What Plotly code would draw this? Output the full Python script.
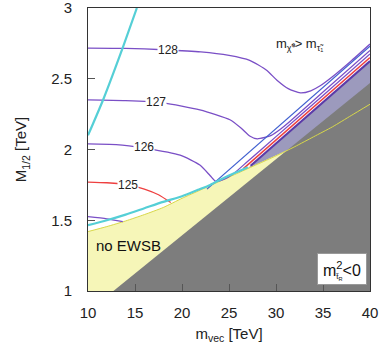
import plotly.graph_objects as go

# --- data (m_vec in TeV, M_1/2 in TeV) ---
grey_x = [12.7, 40, 40]
grey_y = [1.0, 1.0, 2.47]

yellow_x = [10, 12, 14, 16, 18, 20, 22, 24, 26, 28, 30, 32, 34, 36, 38, 40]
yellow_y = [1.42, 1.455, 1.495, 1.54, 1.59, 1.655, 1.715, 1.775, 1.835, 1.895,
            1.955, 2.02, 2.09, 2.16, 2.24, 2.32]

lav_x = [26.9, 40, 40, 26.9]
lav_y = [1.862, 2.625, 1.0, 1.0]
lav_edge_x = [27.3, 40]
lav_edge_y = [1.885, 2.625]

blue_x = [22.66, 40]
blue_y = [1.72, 2.73]

cyan_lo_x = [10, 12, 14, 16, 18, 20, 21.7, 23, 24.5, 26, 27]
cyan_lo_y = [1.465, 1.50, 1.54, 1.585, 1.63, 1.67, 1.715, 1.75, 1.80, 1.845, 1.875]
cyan_hi_x = [10, 11.6, 13.7, 15.2]
cyan_hi_y = [2.10, 2.35, 2.72, 3.0]

c128_x = [10, 14, 18, 22, 25, 27.2, 29, 30.1, 31.3, 32.6, 33.7, 34.7, 36.3, 37.9, 40]
c128_y = [2.717, 2.715, 2.705, 2.69, 2.665, 2.63, 2.56, 2.49, 2.43, 2.40, 2.415,
          2.45, 2.53, 2.62, 2.745]
c127_x = [10, 14, 18, 21.9, 25.1, 26.3, 27.2, 28, 28.8, 29.5, 30.5, 31.5, 35, 40]
c127_y = [2.35, 2.345, 2.33, 2.28, 2.21, 2.15, 2.095, 2.075, 2.085, 2.10, 2.145,
          2.20, 2.406, 2.70]
c126_x = [10, 13, 16, 19.8, 21.9, 23.0, 23.6, 24.5, 25.5, 27, 30, 35, 40]
c126_y = [2.04, 2.035, 2.01, 1.96, 1.89, 1.815, 1.775, 1.79, 1.83, 1.917, 2.091,
          2.381, 2.675]
c125_x = [10, 12, 14.3, 16, 17.5, 18.8]
c125_y = [1.77, 1.765, 1.75, 1.72, 1.68, 1.625]
c125_band_x = [26.5, 40]
c125_band_y = [1.863, 2.65]
c124_x = [10, 12, 13.7]
c124_y = [1.525, 1.51, 1.49]

label_text = ["128", "127", "126", "125"]
label_x = [18.5, 17.2, 16.0, 14.3]
label_y = [2.705, 2.335, 2.02, 1.748]

PURPLE = "#7a4fc6"
FONT = "Liberation Sans"

fig = go.Figure()

def area(x, y, color):
    fig.add_trace(go.Scatter(x=x, y=y, fill="toself", fillcolor=color, mode="lines",
                             line=dict(width=0), hoverinfo="skip"))

def curve(x, y, color, width=1.3):
    fig.add_trace(go.Scatter(x=x, y=y, mode="lines", line=dict(color=color, width=width,
                             shape="spline", smoothing=0.6), hoverinfo="skip"))

# filled regions (order matters)
area(lav_x, lav_y, "#9c9abd")
area(yellow_x + [40, 10], yellow_y + [1.0, 1.0], "#f6f6b8")
area(grey_x, grey_y, "#7d7d7d")

# lines
curve(yellow_x, yellow_y, "#d8d84a", 1.0)
curve(lav_edge_x, lav_edge_y, "#5b3aa8", 2.0)
curve(c124_x, c124_y, PURPLE)
curve(c126_x, c126_y, PURPLE)
curve(c127_x, c127_y, PURPLE)
curve(c128_x, c128_y, PURPLE)
curve(c125_x, c125_y, "#ee3f3f")
curve(c125_band_x, c125_band_y, "#ee3f3f", 1.5)
curve(blue_x, blue_y, "#3f5fcf")
curve(cyan_lo_x, cyan_lo_y, "#55cfd6", 2.2)
curve(cyan_hi_x, cyan_hi_y, "#55cfd6", 2.2)

# contour labels
for t, x, y in zip(label_text, label_x, label_y):
    fig.add_annotation(x=x, y=y, text=t, showarrow=False, bgcolor="white",
                       borderpad=0, font=dict(family=FONT, size=12, color="#222"))

fig.add_annotation(x=32.6, y=2.745, text="m<sub>χ\u0303⁰</sub>> m<sub>τ\u0303₁</sub>",
                   showarrow=False, font=dict(family=FONT, size=13, color="#222"))
fig.add_annotation(x=14.3, y=1.32, text="no EWSB", showarrow=False,
                   font=dict(family=FONT, size=15, color="#111"))
# boxed m^2_{t~R} < 0 label: box + superscript, subscript stacked underneath
fig.add_annotation(x=37.0, y=1.152, text="m<sup>2</sup>&lt;0", showarrow=False,
                   bgcolor="white", bordercolor="#999", borderwidth=1,
                   borderpad=5, font=dict(family=FONT, size=16, color="#111"))
fig.add_annotation(x=36.75, y=1.098, text="t\u0303<sub>R</sub>", showarrow=False,
                   font=dict(family=FONT, size=8, color="#111"))

axis_style = dict(showline=True, linecolor="#333", linewidth=1, mirror=True,
                  ticks="inside", ticklen=7, tickcolor="#555", showgrid=False,
                  zeroline=False, automargin=False, ticklabeloverflow="allow",
                  tickfont=dict(family=FONT, size=15, color="#222"))

fig.update_xaxes(range=[10, 40], tickvals=[10, 15, 20, 25, 30, 35, 40],
                 title=dict(text="m<sub>vec</sub> [TeV]", standoff=8,
                            font=dict(family=FONT, size=15, color="#222")),
                 ticklabelstandoff=8, **axis_style)
fig.update_yaxes(range=[1, 3], tickvals=[1, 1.5, 2, 2.5, 3],
                 title=dict(text="M<sub>1/2</sub> [TeV]", standoff=20,
                            font=dict(family=FONT, size=15, color="#222")),
                 ticklabelstandoff=12, **axis_style)

fig.update_layout(width=382, height=354, showlegend=False,
                  margin=dict(l=88, r=12, t=8, b=63),
                  plot_bgcolor="white", paper_bgcolor="white")

fig.write_html("out.html", config={"displayModeBar": False},
               post_script="document.body.style.margin='0';")
